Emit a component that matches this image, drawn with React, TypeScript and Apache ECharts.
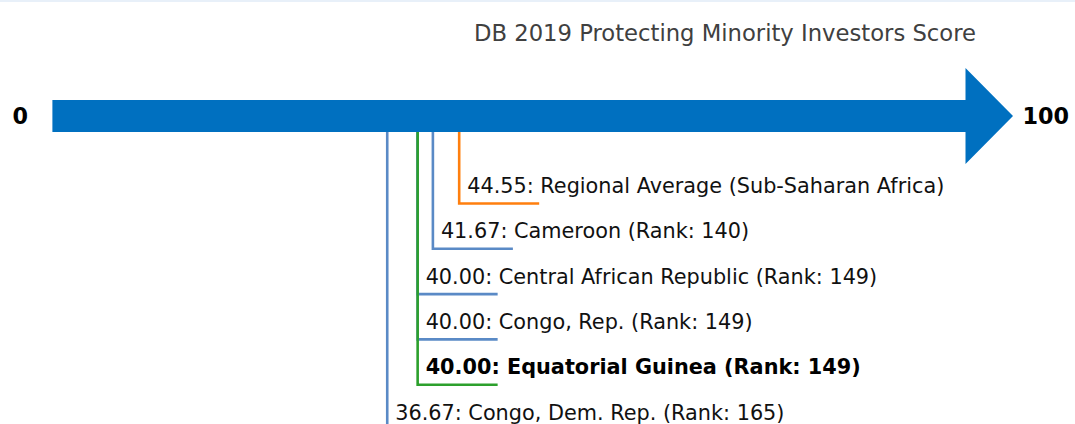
import React, { useEffect, useRef } from 'react';
import * as echarts from 'echarts';

// ---- data ----
const TITLE = 'DB 2019 Protecting Minority Investors Score';
const AXIS_MIN = 0;
const AXIS_MAX = 100;
const AXIS_MIN_LABEL = '0';
const AXIS_MAX_LABEL = '100';

const names = [
  'Regional Average (Sub-Saharan Africa)',
  'Cameroon',
  'Central African Republic',
  'Congo, Rep.',
  'Equatorial Guinea',
  'Congo, Dem. Rep.',
];
const scores = [44.55, 41.67, 40.0, 40.0, 40.0, 36.67];
const ranks: (number | null)[] = [null, 140, 149, 149, 149, 165];
const kinds = ['region', 'peer', 'peer', 'peer', 'focus', 'peer'];

// ---- styles / layout ----
const KIND_COLORS: Record<string, string> = {
  region: '#ff7f0e',
  peer: '#5a8ac6',
  focus: '#2ca02c',
};
const ARROW_COLOR = '#0070c0';
const FONT = "'DejaVu Sans', 'Noto Sans', sans-serif";
const W = 1075;
const H = 424;
const GRID_LEFT = 52.4;
const GRID_RIGHT_X = 965.5;
const ROW0_Y = 203.5;
const ROW_STEP = 45.3;
const ARROW_Y = 116;
const ARROW_ROW = (ARROW_Y - ROW0_Y) / ROW_STEP;
const Y_MIN = -ROW0_Y / ROW_STEP;
const Y_MAX = (H - ROW0_Y) / ROW_STEP;
const BODY_HALF = 16;
const HEAD_HALF = 48;
const HEAD_LEN = 47.5;
const TICK_LEN = 80;
const LABEL_SIZE = 20.8;

export default function App() {
  const ref = useRef<HTMLDivElement>(null);

  useEffect(() => {
    document.body.style.margin = '0';
    if (!ref.current) return;
    const chart = echarts.init(ref.current, undefined, { renderer: 'svg' });

    // draw order: focus country last so its line sits on top
    const order = names.map((_, i) => i).sort((a, b) => {
      const fa = kinds[a] === 'focus' ? 1 : 0;
      const fb = kinds[b] === 'focus' ? 1 : 0;
      return fa - fb || a - b;
    });
    const markerData = order.map((i) => [scores[i], i]);

    const option: any = {
      animation: false,
      title: {
        text: TITLE,
        left: 469,
        top: 16,
        textStyle: {
          fontFamily: FONT,
          fontSize: 22.7,
          fontWeight: 'normal',
          color: '#404040',
        },
      },
      grid: { left: GRID_LEFT, right: W - GRID_RIGHT_X, top: 0, bottom: 0 },
      xAxis: { type: 'value', min: AXIS_MIN, max: AXIS_MAX, show: false },
      yAxis: { type: 'value', min: Y_MIN, max: Y_MAX, inverse: true, show: false },
      graphic: [
        {
          type: 'rect',
          left: 0,
          top: 0,
          shape: { width: W, height: 2 },
          style: { fill: '#e8f0f9' },
          silent: true,
        },
      ],
      series: [
        {
          type: 'custom',
          z: 2,
          data: markerData,
          renderItem: (params: any, api: any) => {
            const idx = api.value(1);
            const score = api.value(0);
            const top = api.coord([score, ARROW_ROW]);
            const p = api.coord([score, idx]);
            const kind = kinds[idx];
            const color = KIND_COLORS[kind];
            const rank = ranks[idx];
            const label =
              `${Number(score).toFixed(2)}: ${names[idx]}` + (rank != null ? ` (Rank: ${rank})` : '');
            return {
              type: 'group',
              children: [
                {
                  type: 'polyline',
                  shape: {
                    points: [
                      [p[0], top[1]],
                      [p[0], p[1]],
                      [p[0] + TICK_LEN, p[1]],
                    ],
                  },
                  style: { stroke: color, lineWidth: 2.6, fill: null, lineJoin: 'miter', lineCap: 'butt' },
                },
                {
                  type: 'text',
                  style: {
                    text: label,
                    x: p[0] + 8,
                    y: p[1] - 17.5,
                    fill: kind === 'focus' ? '#000' : '#111',
                    font: `${kind === 'focus' ? 'bold ' : ''}${LABEL_SIZE}px ${FONT}`,
                    fontFamily: FONT,
                    fontSize: LABEL_SIZE,
                    fontWeight: kind === 'focus' ? 'bold' : 'normal',
                    align: 'left',
                    verticalAlign: 'middle',
                    textAlign: 'left',
                    textVerticalAlign: 'middle',
                  },
                },
              ],
            };
          },
        },
        {
          type: 'custom',
          z: 5,
          data: [[AXIS_MIN, AXIS_MAX]],
          renderItem: (params: any, api: any) => {
            const a = api.coord([api.value(0), ARROW_ROW]);
            const b = api.coord([api.value(1), ARROW_ROW]);
            const cy = a[1];
            return {
              type: 'group',
              children: [
                {
                  type: 'polygon',
                  shape: {
                    points: [
                      [a[0], cy - BODY_HALF],
                      [b[0], cy - BODY_HALF],
                      [b[0], cy - HEAD_HALF],
                      [b[0] + HEAD_LEN, cy],
                      [b[0], cy + HEAD_HALF],
                      [b[0], cy + BODY_HALF],
                      [a[0], cy + BODY_HALF],
                    ],
                  },
                  style: { fill: ARROW_COLOR },
                },
                {
                  type: 'text',
                  style: {
                    text: AXIS_MIN_LABEL,
                    x: a[0] - 24.5,
                    y: cy,
                    fill: '#000',
                    font: `bold 22.3px ${FONT}`,
                    fontFamily: FONT,
                    fontSize: 22.3,
                    fontWeight: 'bold',
                    align: 'right',
                    verticalAlign: 'middle',
                    textAlign: 'right',
                    textVerticalAlign: 'middle',
                  },
                },
                {
                  type: 'text',
                  style: {
                    text: AXIS_MAX_LABEL,
                    x: b[0] + HEAD_LEN + 9.5,
                    y: cy,
                    fill: '#000',
                    font: `bold 22.3px ${FONT}`,
                    fontFamily: FONT,
                    fontSize: 22.3,
                    fontWeight: 'bold',
                    align: 'left',
                    verticalAlign: 'middle',
                    textAlign: 'left',
                    textVerticalAlign: 'middle',
                  },
                },
              ],
            };
          },
        },
      ],
    };

    chart.setOption(option);
    return () => chart.dispose();
  }, []);

  return <div ref={ref} style={{ width: W, height: H }} />;
}
